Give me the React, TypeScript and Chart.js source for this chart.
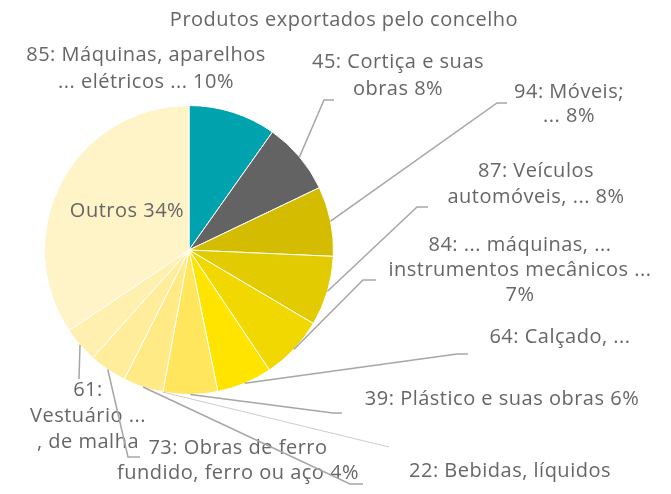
import React, { useEffect, useRef } from 'react';
import { Chart, registerables } from 'chart.js';

Chart.register(...registerables);

const title = 'Produtos exportados pelo concelho';

const categories = [
  '85: Máquinas, aparelhos ... elétricos ...',
  '45: Cortiça e suas obras',
  '94: Móveis; ...',
  '87: Veículos automóveis, ...',
  '84: ... máquinas, ... instrumentos mecânicos ...',
  '64: Calçado, ...',
  '39: Plástico e suas obras',
  '22: Bebidas, líquidos ...',
  '73: Obras de ferro fundido, ferro ou aço',
  '61: Vestuário ..., de malha',
  'Outros',
];

const shares = [9.8, 8.1, 7.8, 7.8, 7.1, 6.2, 6.1, 4.5, 4.2, 4.0, 34.4];

const labelLines = [
  ['85: Máquinas, aparelhos', '... elétricos ... 10%'],
  ['45: Cortiça e suas', 'obras 8%'],
  ['94: Móveis;', '... 8%'],
  ['87: Veículos', 'automóveis, ... 8%'],
  ['84: ... máquinas, ...', 'instrumentos mecânicos ...', '7%'],
  ['64: Calçado, ...'],
  ['39: Plástico e suas obras 6%'],
  ['22: Bebidas, líquidos'],
  ['73: Obras de ferro', 'fundido, ferro ou aço 4%'],
  ['61:', 'Vestuário ...', ', de malha'],
  ['Outros 34%'],
];

const sliceColors = [
  '#00A3AD', '#636363', '#D4BD00', '#E2CB00', '#F0D800', '#FFE400',
  '#FFE65C', '#FFEA85', '#FFED9C', '#FFF0B0', '#FFF3C8',
];

// label placement (presentation only)
const labelLayout: any[] = [
  { x: 146, y: 55, lh: 27 },
  { x: 398, y: 62, lh: 27, elbow: [324, 100], end: [334, 100] },
  { x: 569, y: 92, lh: 24.5, elbow: [497, 103], end: [507, 103] },
  { x: 536, y: 171, lh: 26, elbow: [417, 207], end: [428, 207] },
  { x: 520, y: 245, lh: 25, elbow: [363, 280], end: [376, 280] },
  { x: 560, y: 337, lh: 26, elbow: [457, 354], end: [468, 354] },
  { x: 502, y: 399, lh: 26, elbow: [333, 413], end: [342, 413] },
  { x: 510, y: 471, lh: 26, elbow: [350, 484], end: [363, 484], extra: [389, 447] },
  { x: 238, y: 448, lh: 25, elbow: [128, 457], end: [140, 457] },
  { x: 88, y: 390, lh: 26, elbow: [79, 379], end: [79, 379] },
  { x: 127, y: 211, lh: 26 },
];

const FONT = '20px "Open Sans", sans-serif';
const TEXT = '#666666';

const labelPlugin = {
  id: 'outsideLabels',
  afterDraw(chart: any) {
    const ctx = chart.ctx;
    const meta = chart.getDatasetMeta(0);
    ctx.save();
    ctx.font = FONT;
    try { (ctx as any).letterSpacing = '0.5px'; } catch (e) {}
    ctx.fillStyle = TEXT;
    ctx.textAlign = 'center';
    ctx.textBaseline = 'middle';
    ctx.fillText(title, 344, 20);
    labelLines.forEach((lines, i) => {
      const L = labelLayout[i];
      lines.forEach((t, k) => ctx.fillText(t, L.x, L.y + k * L.lh));
    });
    meta.data.forEach((arc: any, i: number) => {
      const L = labelLayout[i];
      const p = arc.getProps(['x', 'y', 'startAngle', 'endAngle', 'outerRadius'], true);
      if (L.elbow) {
        const a = (p.startAngle + p.endAngle) / 2;
        const sx = p.x + p.outerRadius * Math.cos(a);
        const sy = p.y + p.outerRadius * Math.sin(a);
        ctx.beginPath();
        ctx.strokeStyle = '#A6A6A6';
        ctx.lineWidth = 1.5;
        ctx.moveTo(sx, sy);
        ctx.lineTo(L.elbow[0], L.elbow[1]);
        ctx.lineTo(L.end[0], L.end[1]);
        ctx.stroke();
      }
      if (L.extra) {
        const a = p.startAngle;
        const sx = p.x + p.outerRadius * Math.cos(a);
        const sy = p.y + p.outerRadius * Math.sin(a);
        ctx.beginPath();
        ctx.strokeStyle = '#CCCCCC';
        ctx.lineWidth = 1;
        ctx.moveTo(sx, sy);
        ctx.lineTo(L.extra[0], L.extra[1]);
        ctx.stroke();
      }
    });
    ctx.restore();
  },
};

export default function App() {
  const ref = useRef<HTMLCanvasElement | null>(null);
  useEffect(() => {
    if (!ref.current) return;
    const chart = new Chart(ref.current, {
      type: 'pie',
      data: {
        labels: categories,
        datasets: [
          {
            data: shares,
            backgroundColor: sliceColors,
            borderColor: '#FFFFFF',
            borderWidth: 1,
          },
        ],
      },
      options: {
        responsive: false,
        animation: false,
        events: [],
        layout: { padding: { left: 44, top: 105, right: 337, bottom: 99 } },
        plugins: {
          legend: { display: false },
          tooltip: { enabled: false },
          title: { display: false },
        },
      },
      plugins: [labelPlugin],
    });
    return () => chart.destroy();
  }, []);
  return (
    <div style={{ position: 'absolute', left: 0, top: 0, width: 671, height: 494, background: '#fff' }}>
      <canvas ref={ref} width={671} height={494} />
    </div>
  );
}
